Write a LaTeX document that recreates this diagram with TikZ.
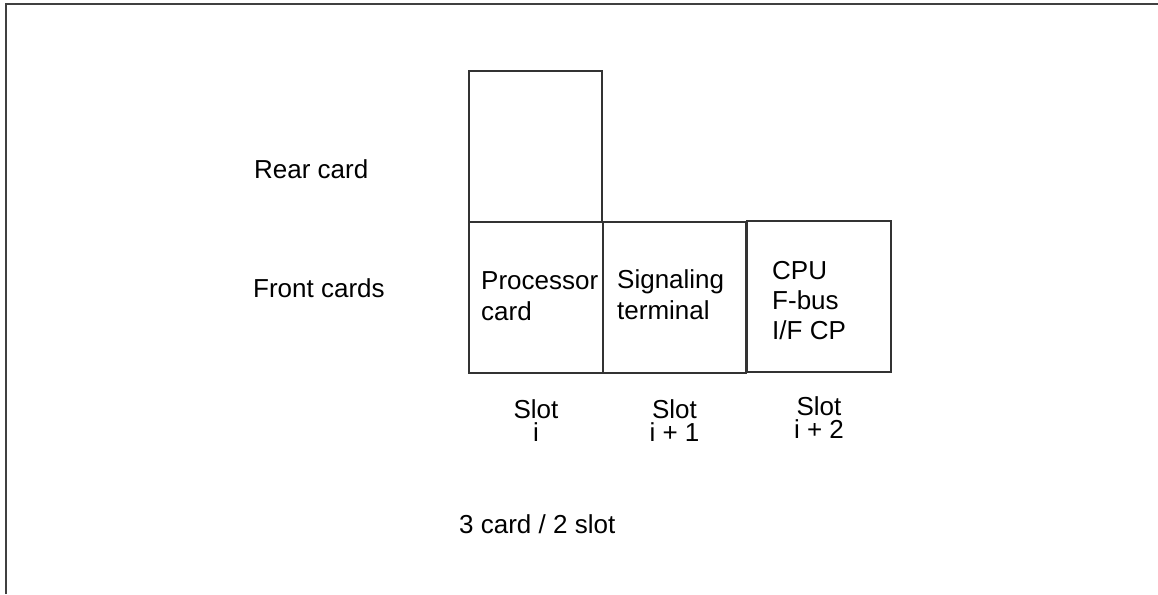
\documentclass[tikz,border=0pt]{standalone}
\usepackage{fontspec}
\setmainfont{Liberation Sans}
\usetikzlibrary{positioning}
\tikzset{
  card/.style={draw=black!80, line width=1.3pt, minimum height=151pt, inner sep=0pt},
  txt/.style={font=\fontsize{26}{31}\selectfont, inner sep=0pt, align=left},
  slottxt/.style={font=\fontsize{26}{23.5}\selectfont, inner sep=0pt, align=center}
}
\begin{document}
\begin{tikzpicture}[x=1pt,y=-1pt]
		\useasboundingbox (0,0) rectangle (1158,594);
		\draw[line width=2.5pt, black!75] (6,594) -- (6,4) -- (1158,4);
		
		\node[card, minimum width=133pt] (rear) at (535.5,146.5) {};
		\node[card, minimum width=134pt] (proc) at (536,297.5) {};
		\node[card, minimum width=143pt] (sig) at (674.5,297.5) {};
		\node[card, minimum width=144pt] (cpu) at (819,296.5) {};
		
		\node[txt, anchor=base west] (reartxt) at (254,178) {Rear card};
		\node[txt, anchor=base west] (fronttxt) at (253,297) {Front cards};
		
		\node[txt, anchor=north west] (proctxt) at (481,271) {Processor\\card};
		\node[txt, anchor=north west] (sigtxt) at (617,269) {Signaling\\terminal};
		\node[txt, anchor=north west, font=\fontsize{26}{30}\selectfont] (cputxt) at (772,261) {CPU\\F-bus\\I/F CP};
		
		\node[slottxt, anchor=north] (slota) at (proc.south |- 0,399) {Slot\\i};
		\node[slottxt, anchor=north] (slotb) at (sig.south |- 0,399) {Slot\\i + 1};
		\node[slottxt, anchor=north] (slotc) at (cpu.south |- 0,396) {Slot\\i + 2};
		
		\node[txt, anchor=base west] (ratio) at (459,533) {3 card / 2 slot};
\end{tikzpicture}
\end{document}
